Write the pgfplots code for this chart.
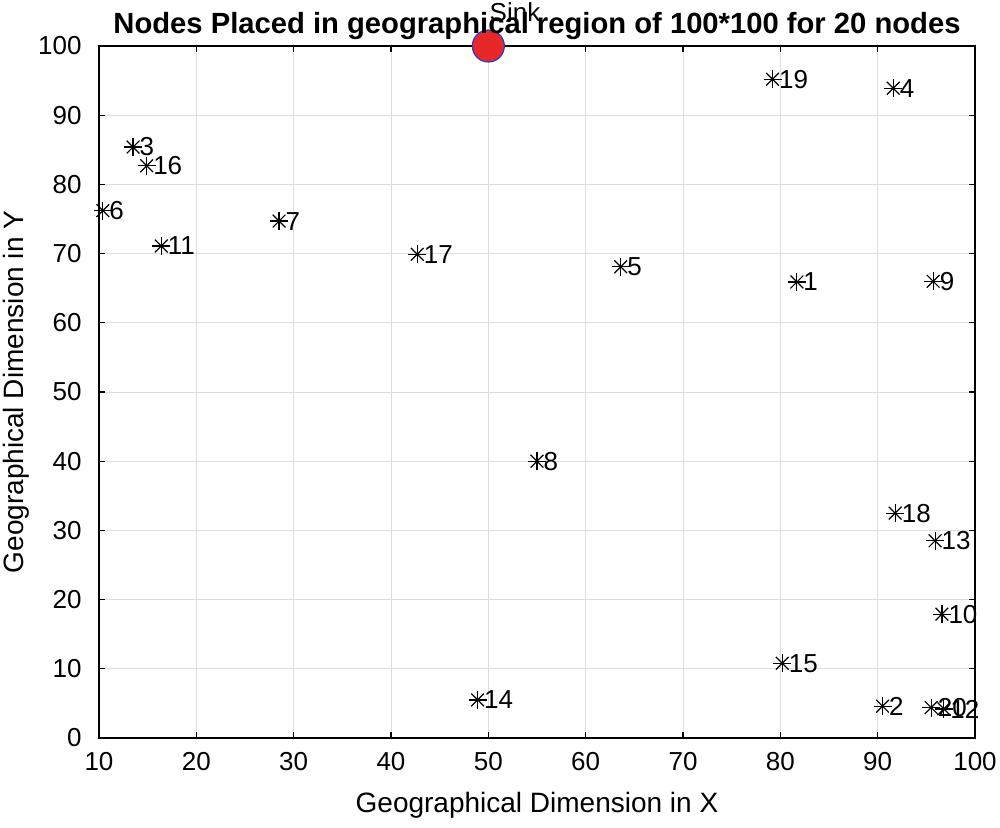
\documentclass[border=0pt]{standalone}
\usepackage{pgfplots}
\pgfplotsset{compat=1.18}
\usepackage{fontspec}
\setmainfont{Liberation Sans}
\definecolor{sinkred}{RGB}{232,40,40}
\definecolor{sinkblue}{RGB}{40,60,200}
\begin{document}
\begin{tikzpicture}
\pgfplotstableread{
x y label
81.7 65.9 1
90.5 4.6 2
13.5 85.4 3
91.6 93.9 4
63.6 68.1 5
10.4 76.2 6
28.5 74.7 7
55.0 40.0 8
95.7 66.0 9
96.6 17.9 10
16.4 71.1 11
96.8 4.2 12
95.9 28.5 13
48.9 5.5 14
80.2 10.8 15
14.9 82.7 16
42.7 69.9 17
91.8 32.5 18
79.2 95.2 19
95.5 4.4 20
}\nodes
\begin{axis}[
  scale only axis,
  width=438pt, height=346pt,
  xmin=10, xmax=100, ymin=0, ymax=100,
  xtick={10,20,...,100}, ytick={0,10,...,100},
  tick align=inside, tick pos=both,
  major tick length=3pt,
  grid=major,
  grid style={black!13, line width=0.5pt},
  axis line style={line width=0.9pt},
  every tick/.style={black, line width=0.6pt},
  tick label style={font=\fontsize{13}{15}\selectfont},
  xticklabel style={anchor=north, inner sep=0pt, yshift=-7pt},
  yticklabel style={anchor=east, inner sep=0pt, xshift=-8.5pt},
  /pgf/number format/assume math mode=true,
  xlabel={Geographical Dimension in X},
  ylabel={Geographical Dimension in Y},
  label style={font=\fontsize{14}{16}\selectfont},
  xlabel style={at={(axis description cs:0.5,-0.0968)}, anchor=center},
  ylabel style={at={(axis description cs:-0.094,0.5)}, anchor=center},
  title={Nodes Placed in geographical region of 100*100 for 20 nodes},
  title style={font=\bfseries\fontsize{14.6}{16}\selectfont, at={(axis description cs:0.5,1)}, anchor=base, yshift=0.5pt, inner sep=0pt},
  clip=false,
]
\addplot[only marks, mark=+, mark size=4.5pt, black, mark options={line width=0.6pt}]
  table[x=x, y=y] {\nodes};
\addplot[only marks, mark=x, mark size=4.5pt, black, mark options={line width=0.6pt},
  nodes near coords, point meta=explicit symbolic,
  every node near coord/.style={anchor=west, inner sep=0pt, xshift=3pt, font=\fontsize{13}{15}\selectfont, black}]
  table[x=x, y=y, meta=label] {\nodes};
\addplot[only marks, mark=*, mark size=8pt, mark options={fill=sinkred, draw=sinkblue, line width=0.6pt}]
  coordinates {(50,100)};
\node[anchor=base west, inner sep=0pt, font=\fontsize{13}{15}\selectfont] at (axis cs:50.1,103.5) {Sink};
\end{axis}
\pgfresetboundingbox
\path (-49.5pt,-44.5pt) rectangle (450.5pt,369pt);
\end{tikzpicture}
\end{document}
